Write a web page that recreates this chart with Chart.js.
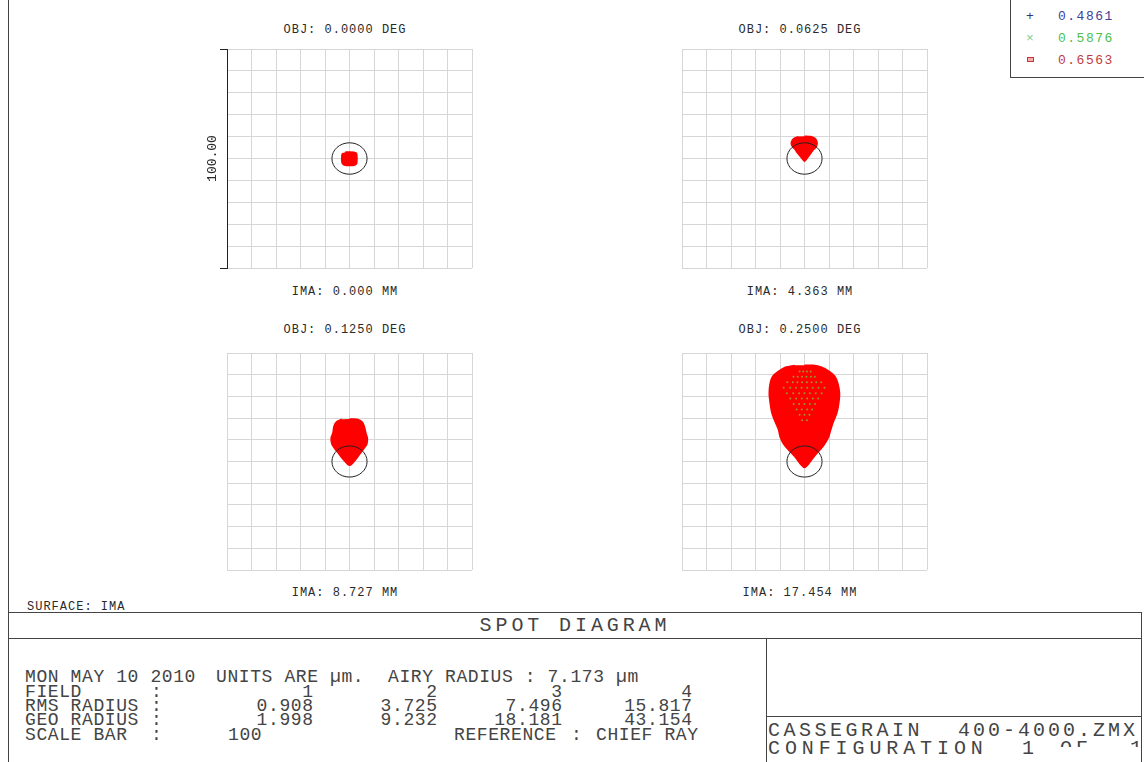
<!DOCTYPE html>
<html>
<head>
<meta charset="utf-8">
<title>Spot Diagram</title>
<script src="https://cdn.jsdelivr.net/npm/chart.js@4.4.1/dist/chart.umd.min.js"></script>
<style>
  html, body { margin: 0; padding: 0; background: #fff; }
  #page {
    position: relative; width: 1144px; height: 762px; overflow: hidden; background: #fff;
    font-family: "Liberation Mono", "DejaVu Sans Mono", monospace; color: #2a2a2a;
  }
  .t { position: absolute; white-space: pre; line-height: 1; }
  .hl { position: absolute; height: 1px; background: #444; }
  .vl { position: absolute; width: 1px; background: #444; }
  canvas { position: absolute; }
</style>
</head>
<body>
<div id="page"></div>
<script>
// ---- Field data -----------------------------------------------------------
const fieldAngles  = ['0.0000', '0.0625', '0.1250', '0.2500'];   // DEG
const imageHeights = ['0.000', '4.363', '8.727', '17.454'];      // MM
const fieldNumbers = ['1', '2', '3', '4'];
const rmsRadius    = ['0.908', '3.725', '7.496', '15.817'];      // µm
const geoRadius    = ['1.998', '9.232', '18.181', '43.154'];     // µm
const wavelengths  = ['0.4861', '0.5876', '0.6563'];             // µm
const airyRadius   = 7.173;                                      // µm
const scaleBar     = 100;                                        // µm, full box width
const scaleBarLabel = '100.00';

// Spot outlines (µm, relative to the chief ray, +y up)
const field1SpotX = [-1.8, 0, 1.8, 2.7, 3.0, 3.0, 2.7, 1.8, 0, -1.8, -2.7, -3.1, -3.1, -2.7];
const field1SpotY = [2.9, 3.0, 2.9, 2.5, 1.6, -1.7, -2.6, -3.1, -3.2, -3.1, -2.6, -1.7, 1.6, 2.5];

const field2SpotX = [0, 2.5, 4.4, 5.1, 5.1, 4.6, 3.7, 2.7, 1.2, 0, -1.2, -2.9, -3.8, -4.6, -5.3, -5.3, -4.4, -2.5];
const field2SpotY = [10.2, 10.0, 9.1, 7.6, 6.3, 5.0, 4.1, 2.6, 0.3, -1.2, 0.3, 2.6, 4.1, 5.0, 6.3, 7.6, 9.1, 10.0];

const field3SpotX = [0, 3.0, 5.0, 6.0, 6.7, 7.3, 7.1, 5.7, 4.4, 2.7, 0.9, 0, -0.8, -2.7, -4.5, -5.9, -7.2, -7.5, -6.8, -6.3, -5.2, -3.1];
const field3SpotY = [19.6, 19.5, 18.4, 16.4, 13.1, 10.8, 8.1, 5.7, 3.8, 1.1, -1.2, -1.7, -1.2, 1.1, 3.8, 5.7, 8.1, 10.8, 13.1, 16.4, 18.4, 19.5];

const field4SpotX = [0, 3.5, 7.0, 10.2, 12.4, 13.6, 14.3, 14.0, 13.2, 11.8, 10.7, 9.8, 8.0, 5.7, 3.4, 1.4, 0,
                     -1.4, -3.4, -5.9, -8.3, -9.9, -10.6, -12.0, -13.3, -14.0, -14.4, -14.0, -13.0, -10.8, -7.8, -4.0];
const field4SpotY = [44.4, 44.3, 43.4, 41.4, 39.2, 36.1, 31.5, 26.9, 22.3, 18.4, 14.6, 11.2, 7.7, 4.6, 1.5, -1.5, -2.8,
                     -1.5, 1.5, 4.6, 7.7, 11.2, 14.6, 18.4, 22.3, 26.9, 31.5, 36.1, 39.2, 41.4, 43.4, 44.3];

// 0.5876 µm rays showing through the red flare of field 4
const field4GreenX = [-2.0, -0.5, 1.0, 2.5,
                      -4.5, -2.8, -1.0, 0.8, 2.6, 4.2,
                      -7.0, -4.8, -2.9, -1.0, 1.0, 2.9, 4.8, 6.8,
                      -8.5, -5.8, -3.5, -1.2, 1.1, 3.4, 5.7, 8.2,
                      -7.2, -4.6, -2.2, 0.0, 2.2, 4.6, 7.0,
                      -5.8, -3.4, -1.1, 1.1, 3.4, 5.6,
                      -4.4, -2.2, 0.0, 2.2, 4.3,
                      -3.2, -1.1, 1.1, 3.1,
                      -2.0, 0.0, 2.0,
                      -1.0, 1.0];
const field4GreenY = [41.5, 41.5, 41.5, 41.5,
                      39.0, 39.0, 39.0, 39.0, 39.0, 39.0,
                      36.5, 36.5, 36.5, 36.5, 36.5, 36.5, 36.5, 36.5,
                      34.0, 34.0, 34.0, 34.0, 34.0, 34.0, 34.0, 34.0,
                      31.5, 31.5, 31.5, 31.5, 31.5, 31.5, 31.5,
                      29.0, 29.0, 29.0, 29.0, 29.0, 29.0,
                      26.5, 26.5, 26.5, 26.5, 26.5,
                      24.0, 24.0, 24.0, 24.0,
                      21.5, 21.5, 21.5,
                      19.0, 19.0];

const spotX = [field1SpotX, field2SpotX, field3SpotX, field4SpotX];
const spotY = [field1SpotY, field2SpotY, field3SpotY, field4SpotY];
const greenX = [null, null, null, field4GreenX];
const greenY = [null, null, null, field4GreenY];

// ---- Page layout ----------------------------------------------------------
const page = document.getElementById('page');
const panels = [
  { left: 227, top: 49,  width: 245, height: 219, labelX: 345, objY: 29.5, imaY: 291 },
  { left: 682, top: 49,  width: 245, height: 219, labelX: 800, objY: 29.5, imaY: 291 },
  { left: 227, top: 353, width: 245, height: 217, labelX: 345, objY: 329,  imaY: 592 },
  { left: 682, top: 353, width: 245, height: 217, labelX: 800, objY: 329,  imaY: 592 }
];

function put(text, x, y, size, ls, align, color, parent) {
  const el = document.createElement('div');
  el.className = 't';
  el.textContent = text;
  el.style.fontSize = size + 'px';
  el.style.letterSpacing = ls + 'px';
  el.style.top = (y - 0.435 * size) + 'px';
  if (color) el.style.color = color;
  if (align === 'center') { el.style.left = x + 'px'; el.style.transform = 'translateX(-50%)'; }
  else if (align === 'right') { el.style.left = x + ls + 'px'; el.style.transform = 'translateX(-100%)'; }
  else el.style.left = x + 'px';
  (parent || page).appendChild(el);
  return el;
}
function hline(x1, x2, y) {
  const d = document.createElement('div'); d.className = 'hl';
  d.style.left = x1 + 'px'; d.style.width = (x2 - x1 + 1) + 'px'; d.style.top = y + 'px';
  page.appendChild(d);
}
function vline(x, y1, y2) {
  const d = document.createElement('div'); d.className = 'vl';
  d.style.left = x + 'px'; d.style.top = y1 + 'px'; d.style.height = (y2 - y1 + 1) + 'px';
  page.appendChild(d);
}

// Frame and title block
vline(8, 0, 762);
hline(8, 1141, 612);
hline(8, 1141, 638);
vline(1141, 612, 762);
vline(766, 638, 762);
hline(766, 1141, 716);
vline(1010, 0, 77);
hline(1010, 1144, 77);

// Wavelength legend
const legendColors = ['#40409c', '#4cbf4c', '#c03c3c'];
const legendRows = [15.7, 37.7, 59.3];
put('+', 1030, legendRows[0], 13, 0, 'center', '#33337a');
put('\u00d7', 1030, legendRows[1], 13, 0, 'center', '#88cc88');
const box = document.createElement('div');
box.style.cssText = 'position:absolute;left:1027px;top:57px;width:5px;height:3px;border:1.5px solid #d03030;background:#f3b0b0;';
page.appendChild(box);
wavelengths.forEach((w, i) => put(w, 1058, legendRows[i], 13, 1.5, 'left', legendColors[i]));

// Panel captions
panels.forEach((p, i) => {
  put('OBJ: ' + fieldAngles[i] + ' DEG', p.labelX, p.objY, 12, 1, 'center');
  put('IMA: ' + imageHeights[i] + ' MM', p.labelX, p.imaY, 12, 1, 'center');
});
put('SURFACE: IMA', 27, 606, 12, 1, 'left');

// Title block text
const TC = '#444';
put('SPOT DIAGRAM', 575, 625, 20, 3.9, 'center', TC);
const TS = 18, TL = 0.6;
const rowY = [676, 690.5, 704.5, 718.5, 733.5];
const colRight = [313, 437, 562, 692];
put('MON MAY 10 2010', 25, rowY[0], TS, TL, 'left', TC);
put('UNITS ARE \u00b5m.', 216, rowY[0], TS, TL, 'left', TC);
put('AIRY RADIUS : ' + airyRadius.toFixed(3) + ' \u00b5m', 388, rowY[0], TS, TL, 'left', TC);
const rowNames = ['FIELD', 'RMS RADIUS', 'GEO RADIUS', 'SCALE BAR'];
rowNames.forEach((n, i) => { put(n, 25, rowY[i + 1], TS, TL, 'left', TC); put(':', 151, rowY[i + 1], TS, TL, 'left', TC); });
[fieldNumbers, rmsRadius, geoRadius].forEach((vals, r) => {
  vals.forEach((v, c) => put(v, colRight[c], rowY[r + 1], TS, TL, 'right', TC));
});
put(String(scaleBar), 228, rowY[4], TS, TL, 'left', TC);
put('REFERENCE', 454, rowY[4], TS, TL, 'left', TC);
put(':', 571, rowY[4], TS, TL, 'left', TC);
put('CHIEF RAY', 596, rowY[4], TS, TL, 'left', TC);

put('CASSEGRAIN', 768, 730, 20, 3.5, 'left', TC);
put('400-4000.ZMX', 958, 730, 20, 3, 'left', TC);
put('CONFIGURATION', 768, 747.5, 20, 4.9, 'left', TC);
put('1', 1022, 747.5, 20, 0, 'left', TC);
const clip = document.createElement('div');
clip.style.cssText = 'position:absolute;left:1050px;top:740px;width:94px;height:7px;overflow:hidden;';
page.appendChild(clip);
put('OF', 10, 7.5, 20, 4, 'left', TC, clip);
put('1', 80, 7.5, 20, 0, 'left', TC, clip);

// ---- Spot charts ----------------------------------------------------------
const airyPlugin = {
  id: 'airyDisk',
  afterDatasetsDraw(chart, args, opts) {
    const { ctx, scales: { x, y } } = chart;
    const cx = x.getPixelForValue(0), cy = y.getPixelForValue(0);
    const rx = Math.abs(x.getPixelForValue(opts.radius) - cx);
    const ry = Math.abs(y.getPixelForValue(opts.radius) - cy);
    ctx.save();
    ctx.strokeStyle = opts.color;
    ctx.lineWidth = opts.width;
    ctx.beginPath();
    ctx.ellipse(cx, cy, rx, ry, 0, 0, Math.PI * 2);
    ctx.stroke();
    ctx.restore();
  }
};

const half = scaleBar / 2, step = scaleBar / 10;
const gridColor = '#d6d6d6';
const PAD = 4, BAR_W = 30;

panels.forEach((p, i) => {
  const withBar = i === 0;
  const extra = withBar ? BAR_W : 0;
  const cv = document.createElement('canvas');
  cv.width = PAD + extra + p.width + PAD;
  cv.height = PAD + p.height + PAD;
  cv.style.left = (p.left - PAD - extra) + 'px';
  cv.style.top = (p.top - PAD) + 'px';
  page.appendChild(cv);

  const datasets = [{
    label: wavelengths[2],
    data: spotX[i].map((x, k) => ({ x, y: spotY[i][k] })),
    showLine: true, fill: 'shape', tension: 0.3,
    borderColor: '#ff0000', backgroundColor: '#ff0000', borderWidth: 1.5,
    pointRadius: 0, order: 2
  }];
  if (greenX[i]) {
    datasets.push({
      label: wavelengths[1],
      data: greenX[i].map((x, k) => ({ x, y: greenY[i][k] })),
      showLine: false, pointRadius: 1, pointBorderWidth: 0,
      pointBackgroundColor: '#9a9430', order: 1
    });
  }

  const scales = {
    x: {
      type: 'linear', position: 'bottom', min: -half, max: half,
      ticks: { display: false, stepSize: step },
      grid: { color: gridColor, lineWidth: 1, drawTicks: false },
      border: { display: false },
      afterFit: s => { s.height = 0; }
    },
    y: {
      type: 'linear', position: 'left', min: -half, max: half,
      ticks: { display: false, stepSize: step },
      grid: { color: gridColor, lineWidth: 1, drawTicks: false },
      border: { display: false },
      afterFit: s => { s.width = 0; }
    }
  };
  if (withBar) {
    scales.bar = {
      type: 'linear', position: 'left', min: -half, max: half, weight: 1, z: 1,
      afterBuildTicks: s => { s.ticks = [{ value: -half }, { value: half }]; },
      ticks: { display: false },
      grid: { drawOnChartArea: false, drawTicks: true, tickLength: 7, color: '#222', lineWidth: 1 },
      border: { display: true, color: '#222', width: 1 },
      title: {
        display: true, text: scaleBarLabel, color: '#2a2a2a',
        font: { family: 'Liberation Mono', size: 13 }, padding: { top: 8, bottom: 0 }
      },
      afterFit: s => { s.width = BAR_W; }
    };
  }

  new Chart(cv, {
    type: 'scatter',
    data: { datasets },
    options: {
      responsive: false, animation: false, devicePixelRatio: 1,
      layout: { padding: { left: PAD, right: PAD, top: PAD, bottom: PAD } },
      plugins: {
        legend: { display: false },
        tooltip: { enabled: false },
        airyDisk: { radius: airyRadius, color: '#222', width: 1 }
      },
      scales
    },
    plugins: [airyPlugin]
  });
});
</script>
</body>
</html>
